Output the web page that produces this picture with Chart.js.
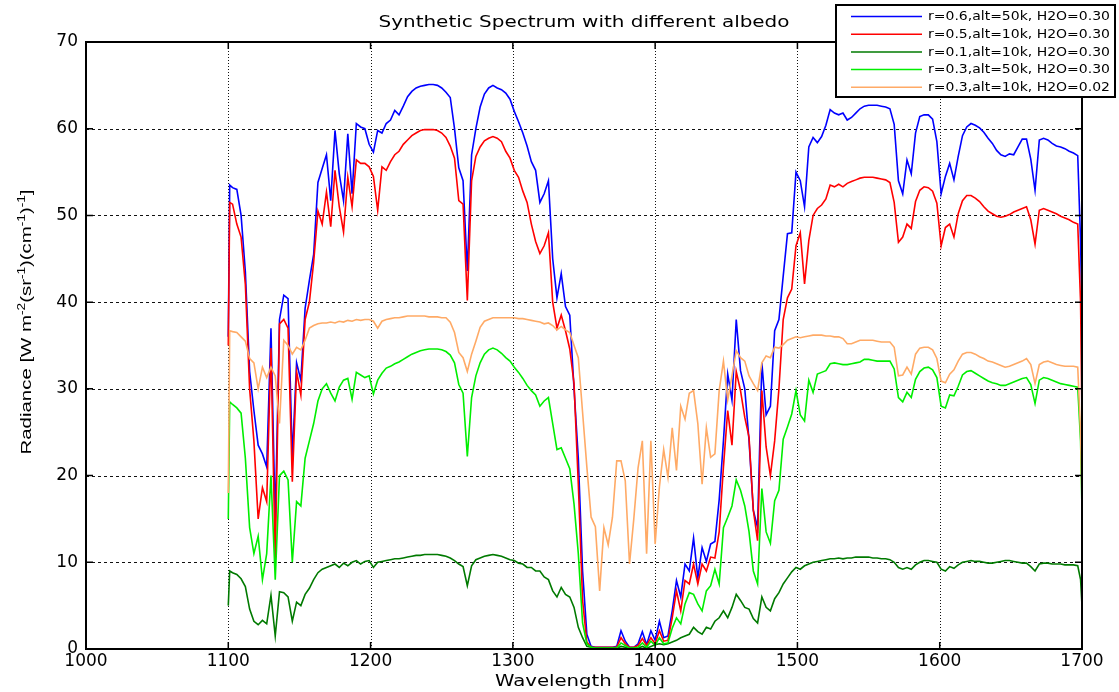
<!DOCTYPE html>
<html>
<head>
<meta charset="utf-8">
<title>Synthetic Spectrum with different albedo</title>
<script src="https://cdn.jsdelivr.net/npm/chart.js@4.4.1/dist/chart.umd.min.js"></script>
<style>
  html, body { margin: 0; padding: 0; background: #fff; }
  #wrap { position: relative; width: 1119px; height: 692px; }
</style>
</head>
<body>
<div id="wrap"><canvas id="chart"></canvas></div>
<script>
// Wavelength grid (nm)
const wavelength = [
  1100,1101,1103,1106,1109,1112,1115,1118,1121,1124,
  1127,1130,1133,1136,1139,1142,1145,1148,1151,1154,
  1157,1160,1163,1166,1169,1172,1175,1178,1181,1184,
  1187,1190,1193,1196,1199,1202,1205,1208,1211,1214,
  1217,1220,1223,1226,1229,1232,1235,1238,1241,1244,
  1247,1250,1253,1256,1259,1262,1265,1268,1271,1274,
  1277,1280,1283,1286,1289,1292,1295,1298,1301,1304,
  1307,1310,1313,1316,1319,1322,1325,1328,1331,1334,
  1337,1340,1343,1346,1349,1352,1355,1358,1361,1364,
  1367,1370,1373,1376,1379,1382,1385,1388,1391,1394,
  1397,1400,1403,1406,1409,1412,1415,1418,1421,1424,
  1427,1430,1433,1436,1439,1442,1445,1448,1451,1454,
  1457,1460,1463,1466,1469,1472,1475,1478,1481,1484,
  1487,1490,1493,1496,1499,1502,1505,1508,1511,1514,
  1517,1520,1523,1526,1529,1532,1535,1538,1541,1544,
  1547,1550,1553,1556,1559,1562,1565,1568,1571,1574,
  1577,1580,1583,1586,1589,1592,1595,1598,1601,1604,
  1607,1610,1613,1616,1619,1622,1625,1628,1631,1634,
  1637,1640,1643,1646,1649,1652,1655,1658,1661,1664,
  1667,1670,1673,1676,1679,1682,1685,1688,1691,1694,
  1697,1699,1700
];

// Radiance, r=0.6, alt=50k, H2O=0.30
const r06alt50 = [
  36,53.5,53.2,53,50,43.5,32,27.5,23.5,22.5,
  21,37,14.7,38,40.8,40.4,22,33,31,39.3,
  42.5,45.5,53.8,55.4,57,51.7,59.8,54.8,51.7,59.4,
  52.5,60.6,60.2,60,58.2,57.3,59.8,59.5,60.6,61,
  62.1,61.6,62.6,63.7,64.3,64.7,64.9,65,65.1,65.1,
  65,64.7,64.2,63.6,60,55.5,54,43.6,57,60,
  62.5,64,64.7,65,64.7,64.5,64.1,63.4,62,60.8,
  59.5,58,56.2,55.2,51.5,52.5,54,45,40.5,43.3,
  39.5,38.5,30,22,9,1.7,0.3,0.2,0.2,0.2,
  0.2,0.2,0.3,2.1,0.9,0.2,0.2,0.6,2,0.5,
  2.1,1,3.2,1.3,1.5,4.4,7.9,6,9.8,9,
  12.8,8.2,11.7,10.1,12.1,12.4,17.2,24,31.7,28.7,
  38,32.1,30,24,16,14,33,27,28,36.7,
  38,43,47.9,48,55,54,51,57.9,59,58.4,
  59.1,60.4,62.2,61.8,61.6,61.8,61,61.3,61.8,62.3,
  62.6,62.7,62.7,62.7,62.6,62.5,62.3,60.5,54,52.5,
  56.4,54.8,59.5,61.4,61.6,61.6,61.1,58.5,52.5,54.5,
  56,54.1,56.8,59.2,60.2,60.6,60.4,60.1,59.6,58.9,
  58.3,57.5,57,56.8,57.1,57,57.9,58.8,58.8,56.5,
  52.9,58.7,58.9,58.7,58.3,58,57.9,57.7,57.4,57.2,
  56.9,47,38
];

// Radiance, r=0.5, alt=10k, H2O=0.30
const r05alt10 = [
  35,51.5,51.3,49,47.5,42,30,24,15,18.6,
  17,34.7,10.2,37.5,38,37,19.3,32,29.3,38,
  40,44.6,50.5,49,52.7,48.7,55.2,51,48.1,54.4,
  51,56.4,56,56,55.6,54.5,50.6,55.6,55.2,56.2,
  57,57.4,58.2,58.7,59.2,59.5,59.8,59.9,59.9,59.9,
  59.8,59.5,59,58,56.6,51.7,51.3,40.2,54,56.8,
  57.9,58.6,58.9,59.1,58.9,58.5,57.4,56.6,55.2,54.4,
  52.8,51.5,49,47,45.6,46.5,48,40,37,38.5,
  36.7,34.6,30.6,19,5.6,0.8,0.2,0.2,0.2,0.2,
  0.2,0.2,0.2,1.3,0.6,0.2,0.2,0.4,1.2,0.4,
  1.3,0.6,2.1,0.9,1,3.6,6.7,4.4,7.9,7.5,
  9.8,7.5,9.8,9,10.6,10.5,13.5,21,27.5,23.5,
  32,29.8,26.7,24.4,16,12.5,29.8,23.3,20,24,
  30,38,40.5,41.5,46.5,48,42.1,47.1,50,50.8,
  51.2,51.9,53.5,53.3,53.6,53.3,53.7,53.9,54.1,54.3,
  54.4,54.4,54.4,54.3,54.2,54.1,53.8,51.5,46.9,47.5,
  49,48.5,51.6,52.9,53.3,53.2,52.8,51.4,46.5,48.6,
  49,47.5,50.2,51.7,52.3,52.3,52,51.6,51,50.5,
  50.2,49.9,49.8,49.9,50.1,50.4,50.6,50.8,51,49.5,
  46.7,50.6,50.8,50.6,50.4,50.2,49.9,49.7,49.5,49.2,
  49,40,26
];

// Radiance, r=0.1, alt=10k, H2O=0.30
const r01alt10 = [
  5,9,8.8,8.6,8.1,7.2,4.6,3.2,2.8,3.3,
  2.9,6.2,1.5,6.6,6.5,6,3.2,5.4,5,6.3,
  7,8,8.8,9.2,9.4,9.6,9.8,9.4,9.9,9.6,
  10,10.2,9.8,10.1,10.2,9.4,10,10.1,10.2,10.3,
  10.4,10.4,10.5,10.6,10.7,10.8,10.8,10.9,10.9,10.9,
  10.9,10.8,10.7,10.5,10.2,9.8,9.5,7.3,9.6,10.3,
  10.5,10.7,10.8,10.9,10.8,10.7,10.5,10.3,10.2,9.9,
  9.8,9.4,9.4,9,9,8.3,8,6.7,6,7.1,
  6.3,6,4.8,2.5,1.3,0.3,0.2,0.1,0.1,0.1,
  0.1,0.1,0.1,0.3,0.2,0.1,0.1,0.1,0.3,0.1,
  0.3,0.5,0.6,0.5,0.6,0.8,1,1.3,1.5,1.7,
  2.5,2,1.7,2.5,2.3,3.2,3.6,4.4,3.6,4.8,
  6.3,5.6,4.8,4.6,3.5,3,6,4.8,4.4,5.8,
  6.5,7.5,8.2,8.9,9.4,9.2,9.6,9.8,10,10.1,
  10.2,10.3,10.4,10.4,10.5,10.4,10.5,10.5,10.6,10.6,
  10.6,10.6,10.5,10.5,10.4,10.4,10.3,10,9.4,9.2,
  9.4,9.2,9.7,10,10.2,10.2,10.1,10,9.2,9,
  9.5,9.3,9.7,10,10.1,10.2,10.1,10.1,10,9.9,
  9.9,10,10.1,10.2,10.2,10.1,10,9.9,9.9,9.5,
  9,9.8,9.9,9.9,9.8,9.8,9.8,9.7,9.7,9.7,
  9.6,8,5
];

// Radiance, r=0.3, alt=50k, H2O=0.30
const r03alt50 = [
  15,28.5,28.2,27.8,27.2,22,14,11,13,8,
  11,20,8,20,20.5,19.5,10,17,16.5,22,
  24,26,28.6,30,30.6,29.5,28.6,30.2,31,31.2,
  28.8,31.9,31.6,31.3,31.5,29.4,31,31.8,32.4,32.6,
  32.9,33.1,33.4,33.7,34,34.2,34.4,34.5,34.6,34.6,
  34.6,34.5,34.3,33.9,33,30.5,29.5,22.2,29,31.5,
  33,34,34.5,34.7,34.5,34.1,33.6,33.2,32.5,31.9,
  31.2,30.4,29.8,29.3,28,28.6,29,26,23,23.2,
  22,20.8,16.7,11,3,0.6,0.2,0.1,0.1,0.1,
  0.1,0.1,0.1,0.7,0.4,0.1,0.1,0.2,0.7,0.2,
  0.9,0.4,1.3,0.6,0.7,2.4,3.6,2.9,5.2,6.5,
  6.3,5.2,4.4,6.7,7.3,9.2,7.5,14,15.2,16.5,
  19.5,18.3,16.5,13.5,9,7.5,18.5,13.5,12.2,17.1,
  18.3,24.2,25.6,27.1,29.8,27,26.3,31,29.6,31.7,
  31.9,32.1,32.9,33,32.9,32.8,32.8,32.9,33,33.1,
  33.4,33.4,33.3,33.2,33.2,33.2,33.2,32.3,29,28.5,
  29.6,29,31.1,32,32.4,32.5,32.2,31.3,28,27.8,
  29.3,29.2,30.3,31.6,32,32.1,31.8,31.5,31.2,30.9,
  30.7,30.6,30.4,30.4,30.6,30.8,31,31.2,31.3,30.5,
  28.3,31,31.3,31.2,31,30.8,30.6,30.5,30.4,30.3,
  30.2,24,16
];

// Radiance, r=0.3, alt=10k, H2O=0.02
const r03alt10dry = [
  18,36.7,36.6,36.5,36,35.5,33.5,33,30,32.5,
  31.3,32.5,31.5,26,35.6,35,34,34.8,34.5,35.6,
  37,37.3,37.5,37.6,37.6,37.7,37.6,37.8,37.7,37.9,
  37.8,38,37.9,38,38,37.8,37,37.8,38,38.1,
  38.2,38.2,38.3,38.4,38.4,38.4,38.4,38.4,38.3,38.3,
  38.3,38.2,38.2,37.7,36.5,34.2,33.6,32,34,35.5,
  37.1,37.8,38,38.2,38.2,38.2,38.2,38.2,38.2,38.1,
  38.1,38,37.9,37.8,37.7,37.5,37.6,37.3,36.8,37.2,
  36.8,36.5,35,33.6,27.3,21,15.2,14.1,6.7,14,
  12,15.2,21.7,21.7,19.4,9.8,15,20.9,24,11,
  24,12.1,18.7,23,19.8,25.5,20.6,28,26.5,29.5,
  29.8,26,19,25.5,22.1,22.5,29.8,33.2,28.7,31.5,
  34.4,33.6,33.2,31.5,30.6,29.8,33,33.8,33.6,34.8,
  34.7,35.1,35.6,35.8,36,35.9,36,36.1,36.2,36.2,
  36.2,36.1,36.1,36,36,35.8,35.2,35.2,35.4,35.6,
  35.6,35.6,35.6,35.5,35.4,35.4,35.4,34.8,31.5,31.6,
  32.5,31.7,34,34.7,34.8,34.8,34.5,33.5,30.9,30.7,
  31.7,32.2,33.2,34,34.2,34.2,34,33.7,33.5,33.2,
  33.1,32.9,32.7,32.5,32.6,32.8,33,33.2,33.5,32.8,
  30.6,32.8,33.1,33.2,33,32.8,32.7,32.6,32.6,32.6,
  32.5,25,17
];

const seriesLabels = [
  'r=0.6,alt=50k, H2O=0.30',
  'r=0.5,alt=10k, H2O=0.30',
  'r=0.1,alt=10k, H2O=0.30',
  'r=0.3,alt=50k, H2O=0.30',
  'r=0.3,alt=10k, H2O=0.02'
];
const seriesValues = [r06alt50, r05alt10, r01alt10, r03alt50, r03alt10dry];
const seriesColors = ['#0000ff', '#ff0000', '#007a00', '#00ee00', '#ffaa66'];

const xTickValues = [1000, 1100, 1200, 1300, 1400, 1500, 1600, 1700];
const yTickValues = [0, 10, 20, 30, 40, 50, 60, 70];

const chartTitle = 'Synthetic Spectrum with different albedo';
const xAxisTitle = 'Wavelength [nm]';
// y-axis title pieces; sup marks superscript runs
const yAxisTitle = [
  { t: 'Radiance [W m', sup: false },
  { t: '-2', sup: true },
  { t: '(sr', sup: false },
  { t: '-1', sup: true },
  { t: ')(cm', sup: false },
  { t: '-1', sup: true },
  { t: ')', sup: false },
  { t: '-1', sup: true },
  { t: ']', sup: false }
];

const FONT = '"DejaVu Sans", "Liberation Sans", sans-serif';

// Draws a text centred at (cx, cy) stretched horizontally to a given width.
function stretchedText(ctx, text, cx, cy, font, width) {
  ctx.save();
  ctx.font = font;
  const w = ctx.measureText(text).width;
  ctx.translate(cx, cy);
  ctx.scale(width / w, 1);
  ctx.textAlign = 'center';
  ctx.textBaseline = 'middle';
  ctx.fillText(text, 0, 0);
  ctx.restore();
}

const matlabFrame = {
  id: 'matlabFrame',
  beforeDatasetsDraw(chart) {
    const { ctx, chartArea: a, scales: { x, y } } = chart;
    ctx.save();
    ctx.strokeStyle = '#111';
    ctx.lineWidth = 1;
    ctx.setLineDash([1, 2]);
    x.ticks.forEach(t => {
      const px = Math.round(x.getPixelForValue(t.value)) + 0.5;
      ctx.beginPath(); ctx.moveTo(px, a.top); ctx.lineTo(px, a.bottom); ctx.stroke();
    });
    ctx.setLineDash([3, 3]);
    y.ticks.forEach(t => {
      const py = Math.round(y.getPixelForValue(t.value)) + 0.5;
      ctx.beginPath(); ctx.moveTo(a.left, py); ctx.lineTo(a.right, py); ctx.stroke();
    });
    ctx.restore();
  },
  afterDatasetsDraw(chart) {
    const { ctx, chartArea: a, scales: { x, y } } = chart;
    ctx.save();
    ctx.strokeStyle = '#000';
    ctx.lineWidth = 2;
    ctx.setLineDash([]);
    ctx.strokeRect(a.left, a.top, a.right - a.left, a.bottom - a.top);
    ctx.lineWidth = 1.5;
    const tl = 7;
    x.ticks.forEach(t => {
      const px = x.getPixelForValue(t.value);
      ctx.beginPath();
      ctx.moveTo(px, a.bottom); ctx.lineTo(px, a.bottom - tl);
      ctx.moveTo(px, a.top); ctx.lineTo(px, a.top + tl);
      ctx.stroke();
    });
    y.ticks.forEach(t => {
      const py = y.getPixelForValue(t.value);
      ctx.beginPath();
      ctx.moveTo(a.left, py); ctx.lineTo(a.left + tl, py);
      ctx.moveTo(a.right, py); ctx.lineTo(a.right - tl, py);
      ctx.stroke();
    });
    ctx.restore();
  },
  afterDraw(chart) {
    const { ctx, chartArea: a } = chart;
    ctx.save();
    ctx.fillStyle = '#000';

    // title
    stretchedText(ctx, chartTitle, (a.left + a.right) / 2, 23, '16px ' + FONT, 411);
    // x-axis title
    stretchedText(ctx, xAxisTitle, 580, 682, '16px ' + FONT, 170);

    // y-axis title with superscripts
    ctx.save();
    ctx.translate(31, 322);
    ctx.rotate(-Math.PI / 2);
    const base = '15px "Liberation Sans", Arial, sans-serif';
    const small = '10px "Liberation Sans", Arial, sans-serif';
    let total = 0;
    yAxisTitle.forEach(p => { ctx.font = p.sup ? small : base; total += ctx.measureText(p.t).width; });
    ctx.scale(265 / total, 1);
    ctx.textBaseline = 'alphabetic';
    ctx.textAlign = 'left';
    let xx = -total / 2;
    yAxisTitle.forEach(p => {
      ctx.font = p.sup ? small : base;
      ctx.fillText(p.t, xx, p.sup ? -6 : 0);
      xx += ctx.measureText(p.t).width;
    });
    ctx.restore();

    // legend box
    const bx = 836, by = 5, bw = 279, bh = 92;
    ctx.fillStyle = '#fff';
    ctx.fillRect(bx, by, bw, bh);
    ctx.strokeStyle = '#000';
    ctx.lineWidth = 2;
    ctx.strokeRect(bx, by, bw, bh);
    chart.data.datasets.forEach((ds, i) => {
      const ry = 16.5 + i * 17.7;
      ctx.strokeStyle = ds.borderColor;
      ctx.lineWidth = 1.5;
      ctx.beginPath(); ctx.moveTo(851, ry); ctx.lineTo(922, ry); ctx.stroke();
      ctx.fillStyle = '#000';
      ctx.save();
      ctx.font = '12.5px ' + FONT;
      const w = ctx.measureText(ds.label).width;
      ctx.translate(928, ry + 0.5);
      ctx.scale(182 / w, 1);
      ctx.textAlign = 'left';
      ctx.textBaseline = 'middle';
      ctx.fillText(ds.label, 0, 0);
      ctx.restore();
    });
    ctx.restore();
  }
};

new Chart(document.getElementById('chart'), {
  type: 'line',
  data: {
    datasets: seriesLabels.map((label, i) => ({
      label,
      data: wavelength.map((w, k) => ({ x: w, y: seriesValues[i][k] })),
      borderColor: seriesColors[i],
      backgroundColor: seriesColors[i],
      borderWidth: 1.6,
      pointRadius: 0,
      tension: 0,
      fill: false,
      order: seriesLabels.length - i
    }))
  },
  options: {
    responsive: true,
    maintainAspectRatio: false,
    animation: false,
    events: [],
    layout: { padding: { left: 0, top: 42, right: 37, bottom: 0 } },
    plugins: {
      legend: { display: false },
      tooltip: { enabled: false },
      title: { display: false }
    },
    scales: {
      x: {
        type: 'linear',
        min: 1000, max: 1700,
        afterBuildTicks: s => { s.ticks = xTickValues.map(v => ({ value: v })); },
        afterFit: s => { s.height = 43; },
        grid: { display: false, drawTicks: false },
        border: { display: false },
        ticks: {
          color: '#000', padding: 2, maxRotation: 0, autoSkip: false,
          font: { family: FONT, size: 17 },
          callback: v => String(v)
        }
      },
      y: {
        type: 'linear',
        min: 0, max: 70,
        afterBuildTicks: s => { s.ticks = yTickValues.map(v => ({ value: v })); },
        afterFit: s => { s.width = 86; },
        grid: { display: false, drawTicks: false },
        border: { display: false },
        ticks: {
          color: '#000', padding: 8, autoSkip: false,
          font: { family: FONT, size: 17 },
          callback: v => String(v)
        }
      }
    }
  },
  plugins: [matlabFrame]
});
</script>
</body>
</html>
